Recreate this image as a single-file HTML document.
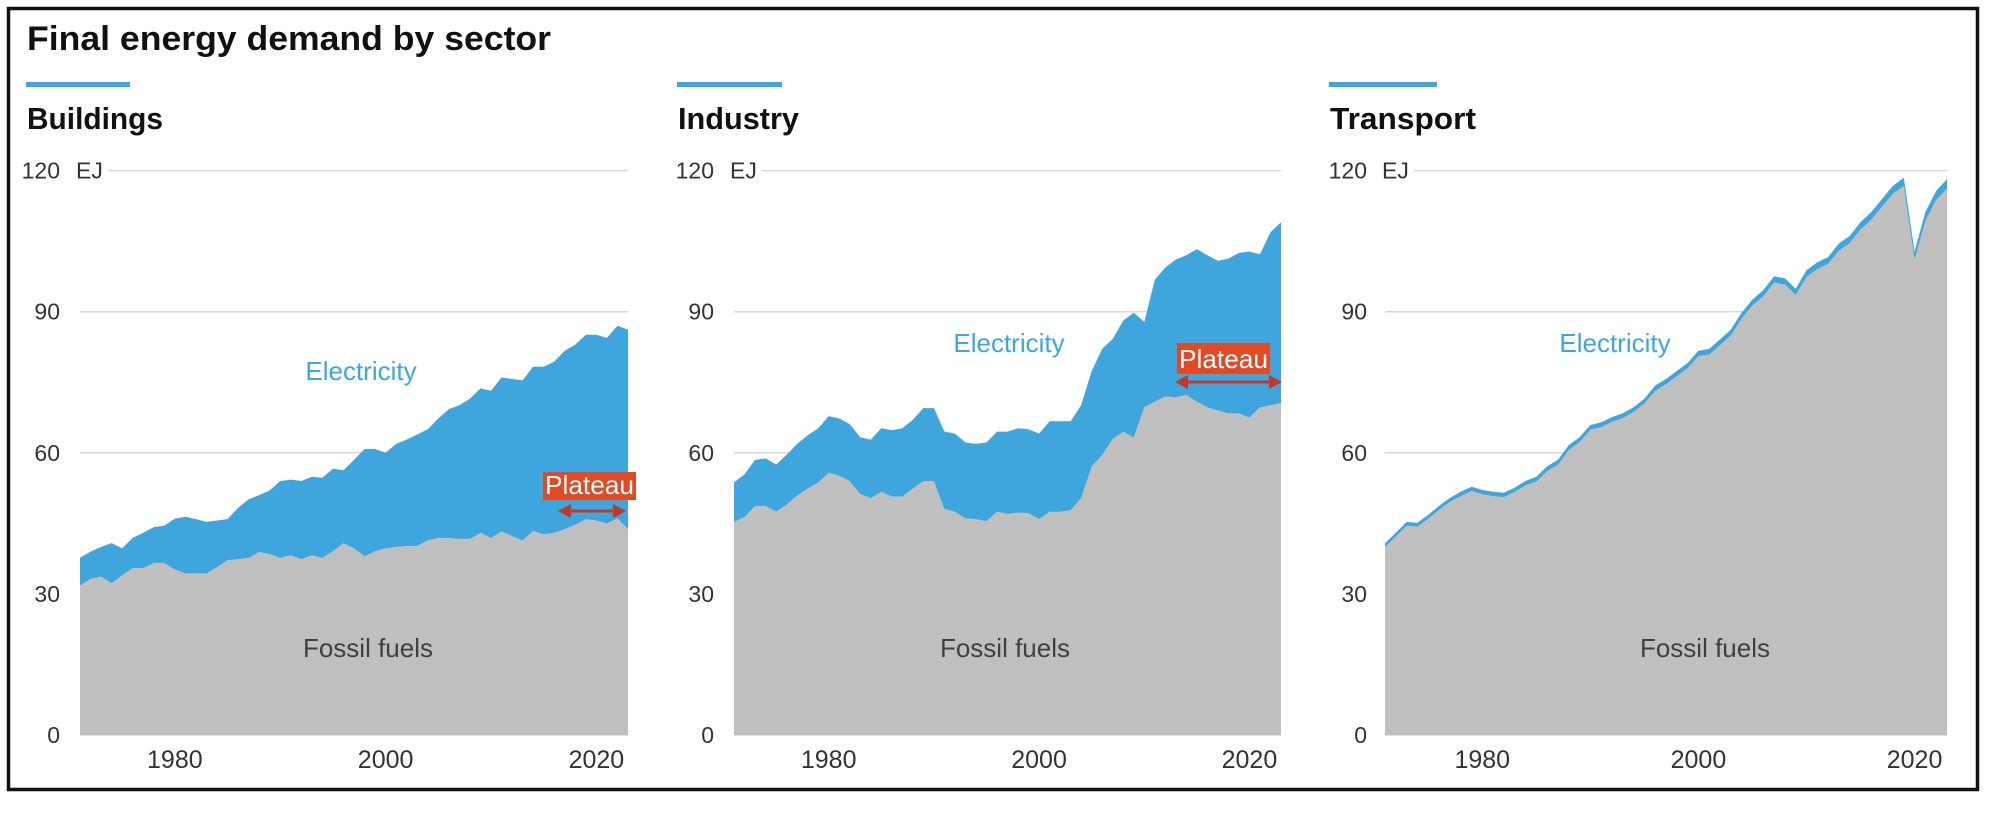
<!DOCTYPE html>
<html><head><meta charset="utf-8">
<style>
html,body{margin:0;padding:0;background:#fff;}
body{width:2003px;height:831px;position:relative;overflow:hidden;font-family:"Liberation Sans",sans-serif;}
svg text{font-family:"Liberation Sans",sans-serif;}
</style></head>
<body>
<svg id="chart" width="2003" height="831" viewBox="0 0 2003 831" xmlns="http://www.w3.org/2000/svg">
<rect x="8.5" y="8.5" width="1969" height="781" fill="none" stroke="#111" stroke-width="3.5"/>
<text x="27" y="50" font-size="34" font-weight="bold" fill="#111" textLength="524" lengthAdjust="spacingAndGlyphs">Final energy demand by sector</text>
<g id="panels"></g>
</svg>
<script>
const years = [];
for (let y = 1971; y <= 2023; y++) years.push(y);
const yTicks = [0, 30, 60, 90, 120];
const xTicks = [1980, 2000, 2020];

const buildingsTotal = [37.7,39,40,40.8,39.7,41.9,43,44.2,44.5,46,46.4,45.9,45.3,45.6,45.9,48.3,50.1,51,52,54,54.3,54,54.9,54.7,56.6,56.3,58.5,60.8,60.8,60,61.9,62.8,63.9,65,67.3,69.3,70.1,71.5,73.7,73.2,76,75.7,75.4,78.3,78.3,79.4,81.7,83,85.1,85.1,84.4,87,86.2];
const buildingsFossil = [31.8,33.2,33.7,32.3,34,35.5,35.5,36.6,36.6,35.2,34.4,34.4,34.4,35.7,37.2,37.4,37.7,38.9,38.5,37.7,38.2,37.4,38.2,37.7,39.1,40.8,39.7,38,39.1,39.7,40,40.2,40.2,41.4,41.9,41.9,41.7,41.7,43,41.9,43.3,42.3,41.4,43.4,42.7,43,43.8,44.7,45.9,45.6,45,46.1,43.8];

const industryTotal = [53.7,55.4,58.5,58.8,57.5,59.6,61.9,63.7,65.2,67.8,67.3,66.1,63.3,62.8,65.2,64.8,65.2,67,69.5,69.5,64.5,64.1,62.2,61.9,62.2,64.5,64.5,65.2,65,64.1,66.7,66.7,66.7,70.1,77.4,82.1,84.2,88.1,89.8,87.8,96.8,99.4,101.1,102,103.3,102,100.8,101.3,102.5,102.8,102.2,106.9,109];
const industryFossil = [45.3,46.4,48.7,48.7,47.5,49,50.9,52.4,53.7,55.8,55.1,54,51.3,50.4,51.7,50.7,50.7,52.4,54,54,48.1,47.5,46.1,45.9,45.5,47.5,47,47.3,47.2,45.9,47.5,47.5,47.8,50.4,57.1,59.6,63,64.5,63.3,69.7,70.9,72,71.8,72.3,70.9,69.7,69,68.4,68.4,67.5,69.7,70.1,70.6];

const transportTotal = [40.8,43,45.3,45.1,46.8,48.7,50.4,51.7,52.8,52.1,51.7,51.5,52.6,54,54.9,57.1,58.5,61.6,63.3,65.9,66.5,67.6,68.4,69.7,71.5,74.3,75.7,77.4,79.1,81.7,82.1,84.1,86.2,89.8,92.6,94.6,97.5,97.1,94.9,98.8,100.5,101.6,104.5,106.1,109,111.2,114,116.8,118.5,102.8,111.2,115.7,118.2];
const transportElec = [0.8,0.8,0.8,0.8,0.8,0.8,0.8,0.9,0.9,0.9,0.9,0.9,0.9,0.9,1,1,1,1,1,1,1,1,1,1,1,1.1,1.1,1.1,1.1,1.1,1.2,1.2,1.2,1.2,1.2,1.3,1.3,1.3,1.3,1.4,1.4,1.4,1.5,1.5,1.5,1.6,1.6,1.7,1.7,1.6,1.8,1.9,2];

const panels = [
  {name:'buildings', title:'Buildings', tw:136, barX1:26, barX2:130, titleX:27, labelR:60, ejX:76, gx0:80, x0:80, x1:628,
   total:buildingsTotal, fossil:buildingsFossil, elec:[361,380], foss:[368,657],
   plateau:{bx:543,by:472,bw:93,bh:28,ax1:558,ax2:626,ay:511}},
  {name:'industry', title:'Industry', tw:121, barX1:677, barX2:782, titleX:678, labelR:714, ejX:730, gx0:734, x0:734, x1:1281,
   total:industryTotal, fossil:industryFossil, elec:[1009,352], foss:[1005,657],
   plateau:{bx:1177,by:343,bw:93,bh:31,ax1:1175,ax2:1282,ay:382}},
  {name:'transport', title:'Transport', tw:146, barX1:1329, barX2:1437, titleX:1330, labelR:1367, ejX:1382, gx0:1385, x0:1385, x1:1947,
   total:transportTotal, fossil:transportTotal.map((t,i)=>t-transportElec[i]), elec:[1615,352], foss:[1705,657], plateau:null}
];

const NS = 'http://www.w3.org/2000/svg';
const root = document.getElementById('panels');
function mk(tag, attrs, parent, txt){
  const e = document.createElementNS(NS, tag);
  for (const k in attrs) e.setAttribute(k, attrs[k]);
  if (txt !== undefined) e.textContent = txt;
  parent.appendChild(e);
  return e;
}
const yTop = 170.6, yBot = 735, yMax = 120;
function yScale(v){ return yBot - v/yMax*(yBot-yTop); }

panels.forEach(p => {
  const g = mk('g', {}, root);
  
  
  const xScale = yr => p.x0 + (yr - 1971)/(2023-1971)*(p.x1 - p.x0);

  const bar = mk('rect', {x:p.barX1, y:82, width:p.barX2-p.barX1, height:5, fill:'#3ea6dc'}, g);
  
  
  const t = mk('text', {x:p.titleX, y:129, 'font-size':31, 'font-weight':'bold', fill:'#111', textLength:p.tw, lengthAdjust:'spacingAndGlyphs'}, g, p.title);
  
  

  yTicks.forEach(v => {
    const y = yScale(v);
    const gx = v === 120 ? p.ejX + 32 : p.gx0;
    const line = mk('line', {x1:gx, x2:p.x1, y1:y, y2:y, stroke:'#d9d9d9', 'stroke-width':1.5}, g);
    
    
    const lab = mk('text', {x:p.labelR, y:y+8, 'font-size':23, 'text-anchor':'end', fill:'#333'}, g, String(v));
    
    
  });
  const ej = mk('text', {x:p.ejX, y:yScale(120)+8, 'font-size':23, fill:'#333'}, g, 'EJ');
  
  

  let d = 'M' + xScale(years[0]) + ',' + yBot;
  years.forEach((yr,i) => { d += ' L' + xScale(yr).toFixed(1) + ',' + yScale(p.total[i]).toFixed(1); });
  d += ' L' + xScale(years[years.length-1]) + ',' + yBot + ' Z';
  const ea = mk('path', {d:d, fill:'#3ea6dc'}, g);
  
  

  let d2 = 'M' + xScale(years[0]) + ',' + yBot;
  years.forEach((yr,i) => { d2 += ' L' + xScale(yr).toFixed(1) + ',' + yScale(p.fossil[i]).toFixed(1); });
  d2 += ' L' + xScale(years[years.length-1]) + ',' + yBot + ' Z';
  const fa = mk('path', {d:d2, fill:'#bfbfbf'}, g);
  
  

  xTicks.forEach(yr => {
    const xl = mk('text', {x:xScale(yr), y:768, 'font-size':25, 'text-anchor':'middle', fill:'#333'}, g, String(yr));
    
    
  });

  const el = mk('text', {x:p.elec[0], y:p.elec[1], 'font-size':26, 'text-anchor':'middle', fill:'#3ea6dc'}, g, 'Electricity');
  
  
  const fl = mk('text', {x:p.foss[0], y:p.foss[1], 'font-size':26, 'text-anchor':'middle', fill:'#404040'}, g, 'Fossil fuels');
  
  

  if (p.plateau) {
    const q = p.plateau;
    const pb = mk('rect', {x:q.bx, y:q.by, width:q.bw, height:q.bh, fill:'#e04a25'}, g);
    
    
    const pt = mk('text', {x:q.bx+q.bw/2, y:q.by+q.bh-6, 'font-size':26, 'text-anchor':'middle', fill:'#fff', textLength:q.bw-4, lengthAdjust:'spacingAndGlyphs'}, g, 'Plateau');
    
    
    const ar = mk('g', {}, g);
    
    
    mk('line', {x1:q.ax1+8, x2:q.ax2-8, y1:q.ay, y2:q.ay, stroke:'#c0392b', 'stroke-width':3}, ar);
    mk('path', {d:`M${q.ax1},${q.ay} L${q.ax1+13},${q.ay-7} L${q.ax1+13},${q.ay+7} Z`, fill:'#c0392b'}, ar);
    mk('path', {d:`M${q.ax2},${q.ay} L${q.ax2-13},${q.ay-7} L${q.ax2-13},${q.ay+7} Z`, fill:'#c0392b'}, ar);
  }
});
</script>
</body></html>
